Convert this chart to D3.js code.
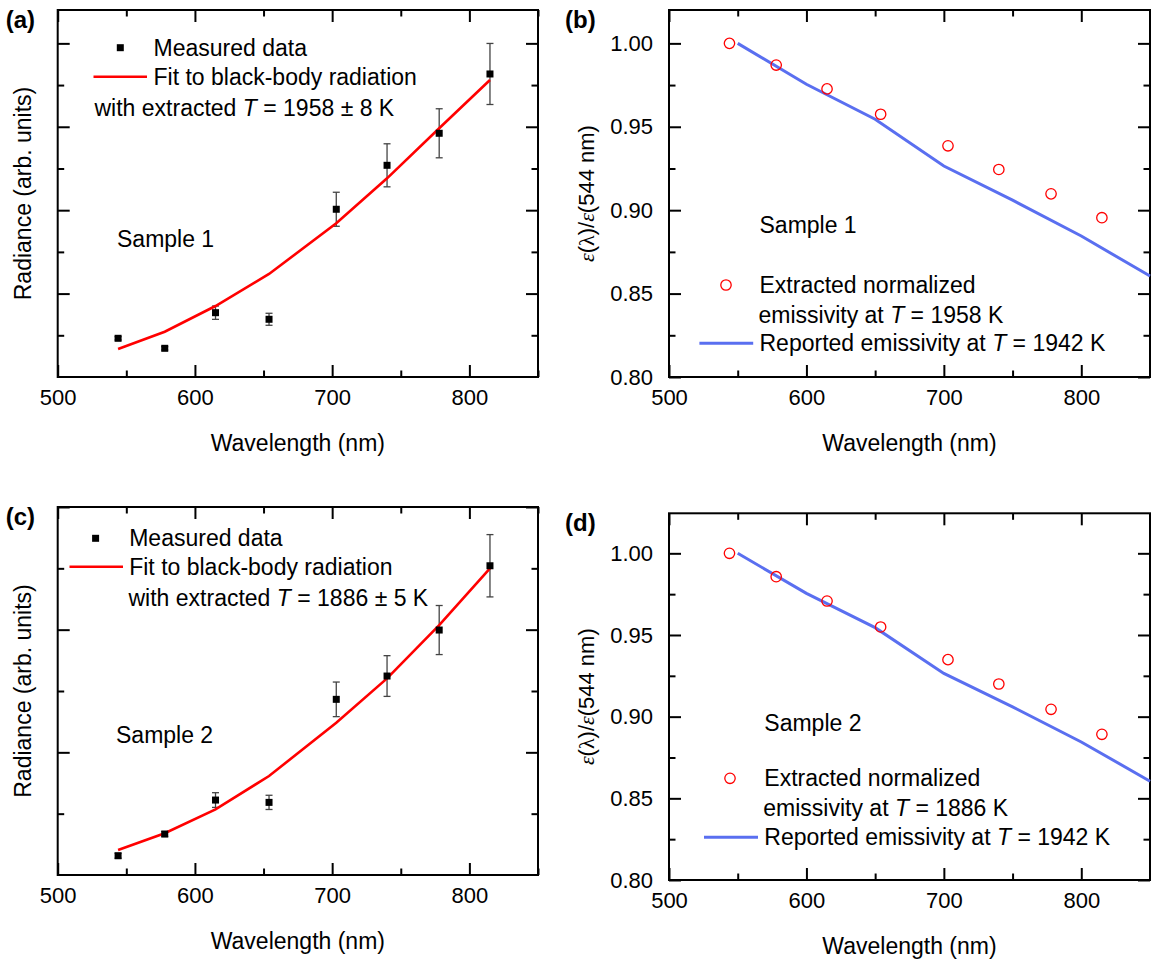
<!DOCTYPE html>
<html><head><meta charset="utf-8">
<script src="https://cdn.jsdelivr.net/npm/d3@7"></script>
<style>
body{margin:0;background:#fff}
text{font-family:"Liberation Sans",Arial,Helvetica,sans-serif;fill:#000}
</style>
</head><body><svg id="chart" width="1151" height="962"></svg>
<script>
// ---------- data ----------
const wavelengths = [544, 578, 615, 654, 703, 740, 778, 815];
const radiance1 = [0.464, 0.344, 0.771, 0.692, 2.011, 2.538, 2.922, 3.633];
const radianceErr1 = [0.02, 0.02, 0.08, 0.072, 0.204, 0.258, 0.294, 0.366];
const fit1 = [0.336, 0.543, 0.851, 1.235, 1.843, 2.382, 2.982, 3.561];
const radiance2 = [0.157, 0.334, 0.611, 0.592, 1.432, 1.622, 1.997, 2.521];
const radianceErr2 = [0.02, 0.02, 0.06, 0.058, 0.141, 0.166, 0.2, 0.254];
const fit2 = [0.204, 0.340, 0.535, 0.807, 1.241, 1.603, 2.037, 2.5];
const emissivity1 = [1.000, 0.987, 0.9727, 0.9575, 0.9386, 0.9244, 0.9098, 0.8955];
const emissivity2 = [1.000, 0.9857, 0.9708, 0.9549, 0.9349, 0.920, 0.9045, 0.8892];
const reportedWl = [550, 600, 650, 700, 750, 800, 850];
const reportedEmis = [1.000, 0.9755, 0.9545, 0.9265, 0.906, 0.8845, 0.8605];
const xMajorTicks = [500, 600, 700, 800];
const xMinorTicks = [550, 650, 750, 850];
const emisMajorTicks = [0.80, 0.85, 0.90, 0.95, 1.00];
const emisMinorTicks = [0.825, 0.875, 0.925, 0.975];
const radMajorTicks1 = [1, 2, 3, 4];
const radMinorTicks1 = [0.5, 1.5, 2.5, 3.5];
const radMajorTicks2 = [1, 2, 3];
const radMinorTicks2 = [0.5, 1.5, 2.5];

const RED = "#ff0000", BLUE = "#5a6ff0";
const svg = d3.select("#chart");

function styleAxis(sel) {
  sel.select(".domain").remove();
  sel.selectAll(".tick line").attr("stroke", "#000").attr("stroke-width", 2);
  sel.selectAll(".tick text").attr("font-size", 22).attr("fill", "#000")
     .style("font-family", '"Liberation Sans",Arial,sans-serif');
}

function drawFrame(x, y, yMajor, yMinor, yLabels, yFmt) {
  const [xl, xr] = x.range();
  const [yb, yt] = y.range();
  const g = svg.append("g");
  // bottom
  g.append("g").attr("transform", `translate(0,${yb})`)
    .call(d3.axisBottom(x).tickValues(xMajorTicks).tickSize(-12).tickPadding(12).tickFormat(d3.format("d"))).call(styleAxis);
  g.append("g").attr("transform", `translate(0,${yb})`)
    .call(d3.axisBottom(x).tickValues(xMinorTicks).tickSize(-6.5).tickFormat("")).call(styleAxis);
  // top
  g.append("g").attr("transform", `translate(0,${yt})`)
    .call(d3.axisTop(x).tickValues(xMajorTicks).tickSize(-12).tickFormat("")).call(styleAxis);
  g.append("g").attr("transform", `translate(0,${yt})`)
    .call(d3.axisTop(x).tickValues(xMinorTicks).tickSize(-6.5).tickFormat("")).call(styleAxis);
  // left
  const la = d3.axisLeft(y).tickValues(yMajor).tickSize(-12).tickPadding(16);
  la.tickFormat(yLabels ? yFmt : "");
  g.append("g").attr("transform", `translate(${xl},0)`).call(la).call(styleAxis);
  g.append("g").attr("transform", `translate(${xl},0)`)
    .call(d3.axisLeft(y).tickValues(yMinor).tickSize(-6.5).tickFormat("")).call(styleAxis);
  // right
  g.append("g").attr("transform", `translate(${xr},0)`)
    .call(d3.axisRight(y).tickValues(yMajor).tickSize(-12).tickFormat("")).call(styleAxis);
  g.append("g").attr("transform", `translate(${xr},0)`)
    .call(d3.axisRight(y).tickValues(yMinor).tickSize(-6.5).tickFormat("")).call(styleAxis);
  g.append("rect").attr("x", xl).attr("y", yt).attr("width", xr - xl).attr("height", yb - yt)
    .attr("fill", "none").attr("stroke", "#000").attr("stroke-width", 2);
  // x title
  svg.append("text").attr("x", (xl + xr) / 2).attr("y", yb + 74).attr("text-anchor", "middle")
    .attr("font-size", 23).text("Wavelength (nm)");
}

function richText(x, y, parts, size) {
  const t = svg.append("text").attr("x", x).attr("y", y).attr("font-size", size || 23)
    .attr("dominant-baseline", "central");
  parts.forEach(p => {
    const s = t.append("tspan").text(p.t);
    if (p.i) s.attr("font-style", "italic");
  });
  return t;
}

function radiancePanel(box, vals, errs, fit, major, minor, ymax, label, sample, tempText, leg) {
  const x = d3.scaleLinear().domain([500, 850]).range([box.l, box.r]);
  const y = d3.scaleLinear().domain([0, ymax]).range([box.b, box.t]);
  drawFrame(x, y, major, minor, false);
  // y title
  svg.append("text").attr("transform", `translate(${box.l - 35},${(box.t + box.b) / 2}) rotate(-90)`)
    .attr("text-anchor", "middle").attr("dominant-baseline", "central").attr("font-size", 23)
    .text("Radiance (arb. units)");
  // panel label
  svg.append("text").attr("x", box.l - 52).attr("y", box.t + 18).attr("font-size", 24)
    .attr("font-weight", "bold").text(label);
  const g = svg.append("g");
  // error bars
  const cap = 3.5;
  wavelengths.forEach((w, i) => {
    const cx = x(w), y1 = y(vals[i] - errs[i]), y2 = y(vals[i] + errs[i]);
    g.append("line").attr("x1", cx).attr("x2", cx).attr("y1", y1).attr("y2", y2).attr("stroke", "#444").attr("stroke-width", 1.3);
    [y1, y2].forEach(yy => g.append("line").attr("x1", cx - cap).attr("x2", cx + cap).attr("y1", yy).attr("y2", yy).attr("stroke", "#444").attr("stroke-width", 1.3));
  });
  // fit line
  const line = d3.line().x((d, i) => x(wavelengths[i])).y(d => y(d));
  g.append("path").datum(fit).attr("d", line).attr("fill", "none").attr("stroke", RED).attr("stroke-width", 2.6);
  // markers
  g.selectAll("rect.m").data(vals).enter().append("rect")
    .attr("x", (d, i) => x(wavelengths[i]) - 3.5).attr("y", d => y(d) - 3.5)
    .attr("width", 7).attr("height", 7).attr("fill", "#000");
  // legend
  svg.append("rect").attr("x", leg.sx - 3.5).attr("y", leg.y1 - 3.5).attr("width", 7).attr("height", 7).attr("fill", "#000");
  richText(leg.tx, leg.y1, [{t: "Measured data"}]);
  svg.append("line").attr("x1", leg.l1).attr("x2", leg.l2).attr("y1", leg.y2).attr("y2", leg.y2).attr("stroke", RED).attr("stroke-width", 2.6);
  richText(leg.tx, leg.y2, [{t: "Fit to black-body radiation"}]);
  richText(leg.wx, leg.y3, [{t: "with extracted "}, {t: "T", i: true}, {t: " = " + tempText}]);
  richText(leg.smx, leg.smy, [{t: sample}]);
}

function emisPanel(box, vals, ymax, label, sample, tempText, leg) {
  const x = d3.scaleLinear().domain([500, 850]).range([box.l, box.r]);
  const y = d3.scaleLinear().domain([0.8, ymax]).range([box.b, box.t]);
  drawFrame(x, y, emisMajorTicks, emisMinorTicks, true, d3.format(".2f"));
  // y title
  const yt = svg.append("text").attr("transform", `translate(${box.l - 83},${(box.t + box.b) / 2}) rotate(-90)`)
    .attr("text-anchor", "middle").attr("dominant-baseline", "central").attr("font-size", 22);
  yt.append("tspan").attr("font-style", "italic").style("font-family", '"Liberation Serif","Times New Roman",serif').text("ε");
  yt.append("tspan").text("(");
  yt.append("tspan").style("font-family", '"Liberation Serif","Times New Roman",serif').text("λ");
  yt.append("tspan").text(")/");
  yt.append("tspan").attr("font-style", "italic").style("font-family", '"Liberation Serif","Times New Roman",serif').text("ε");
  yt.append("tspan").text("(544 nm)");
  svg.append("text").attr("x", box.l - 104).attr("y", box.t + 18).attr("font-size", 24)
    .attr("font-weight", "bold").text(label);
  const g = svg.append("g");
  const line = d3.line().x((d, i) => x(reportedWl[i])).y(d => y(d));
  g.append("path").datum(reportedEmis).attr("d", line).attr("fill", "none").attr("stroke", BLUE).attr("stroke-width", 3);
  g.selectAll("circle").data(vals).enter().append("circle")
    .attr("cx", (d, i) => x(wavelengths[i])).attr("cy", d => y(d)).attr("r", 5.2)
    .attr("fill", "none").attr("stroke", RED).attr("stroke-width", 1.3);
  richText(leg.tx, leg.smy, [{t: sample}]);
  svg.append("circle").attr("cx", leg.cx).attr("cy", leg.y1).attr("r", 5.2).attr("fill", "none").attr("stroke", RED).attr("stroke-width", 1.3);
  richText(leg.tx, leg.y1, [{t: "Extracted normalized"}]);
  richText(leg.tx - 1, leg.y2, [{t: "emissivity at "}, {t: "T", i: true}, {t: " = " + tempText}]);
  svg.append("line").attr("x1", leg.l1).attr("x2", leg.l2).attr("y1", leg.y3).attr("y2", leg.y3).attr("stroke", BLUE).attr("stroke-width", 3);
  richText(leg.tx, leg.y3, [{t: "Reported emissivity at "}, {t: "T", i: true}, {t: " = 1942 K"}]);
}

radiancePanel({l: 57.7, r: 538, t: 10, b: 377}, radiance1, radianceErr1, fit1, radMajorTicks1, radMinorTicks1, 4.4,
  "(a)", "Sample 1", "1958 ± 8 K",
  {sx: 120.3, tx: 153.5, y1: 47.7, l1: 93.5, l2: 147, y2: 76.7, wx: 94.5, y3: 108.3, smx: 117, smy: 239.3});
emisPanel({l: 669, r: 1150, t: 10, b: 377}, emissivity1, 1.02, "(b)", "Sample 1", "1958 K",
  {cx: 726, tx: 759.5, smy: 225, y1: 285, y2: 315, l1: 699.4, l2: 753.2, y3: 343.3});
radiancePanel({l: 57.7, r: 538, t: 507, b: 875}, radiance2, radianceErr2, fit2, radMajorTicks2, radMinorTicks2, 3.0,
  "(c)", "Sample 2", "1886 ± 5 K",
  {sx: 95.6, tx: 129.2, y1: 538.3, l1: 69.5, l2: 123, y2: 566.7, wx: 128.5, y3: 598.3, smx: 116, smy: 735});
emisPanel({l: 669, r: 1150, t: 513.3, b: 880}, emissivity2, 1.0245, "(d)", "Sample 2", "1886 K",
  {cx: 730, tx: 764.3, smy: 722.7, y1: 778.3, y2: 808.3, l1: 704, l2: 758, y3: 837.3});
</script></body></html>
